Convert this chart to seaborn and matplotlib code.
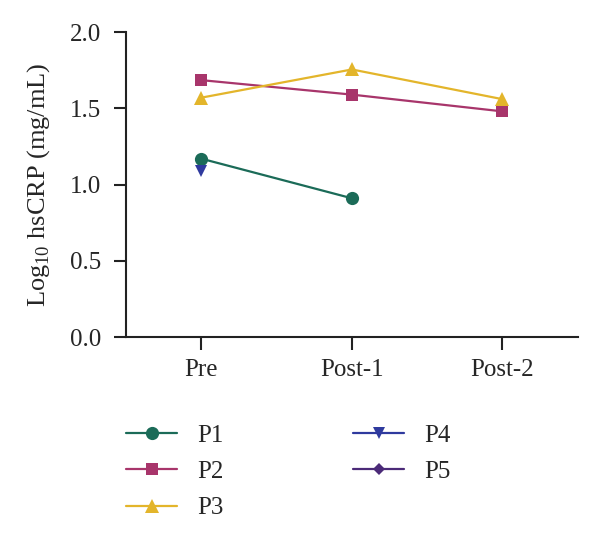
import numpy as np
import pandas as pd
import seaborn as sns
import matplotlib.pyplot as plt
from matplotlib.lines import Line2D

# 시점 / 환자별 Log10 hsCRP
stages = ['Pre', 'Post-1', 'Post-2']
patients = ['P1', 'P2', 'P3', 'P4', 'P5']
p1 = [1.17, 0.91, np.nan]
p2 = [1.685, 1.59, 1.48]
p3 = [1.57, 1.755, 1.56]
p4 = [1.09, np.nan, np.nan]
p5 = [np.nan, np.nan, np.nan]

colors = ['#1b6b58', '#a8356b', '#e3b52b', '#2f3a9e', '#4b2a78']
markers = ['o', 's', '^', 'v', 'D']
msizes = [9.5, 9, 9.5, 8.5, 6.5]

rows = []
for name, vals in zip(patients, [p1, p2, p3, p4, p5]):
    for i, v in enumerate(vals):
        rows.append({'patient': name, 'stage': i, 'value': v})
data = pd.DataFrame(rows).dropna()

sns.set_style('ticks')
plt.rcParams['font.family'] = ['Liberation Serif', 'DejaVu Serif']
plt.rcParams['mathtext.fontset'] = 'custom'
plt.rcParams['mathtext.rm'] = 'Liberation Serif'

fig = plt.figure(figsize=(6, 5.35), dpi=100)
ax = fig.add_axes([0.21, 0.370, 0.753, 0.570])

for name, c, m, ms in zip(patients, colors, markers, msizes):
    sub = data[data['patient'] == name]
    if len(sub) == 0:
        continue
    sns.lineplot(data=sub, x='stage', y='value', color=c, marker=m,
                 markersize=ms, markeredgewidth=0, linewidth=1.6, ax=ax, legend=False)

ax.set_xlim(-0.5, 2.5)
ax.set_ylim(0, 2.0)
ax.set_xticks(range(len(stages)))
ax.set_xticklabels(stages)
ax.set_yticks([0, 0.5, 1.0, 1.5, 2.0])
ax.set_yticklabels(['0.0', '0.5', '1.0', '1.5', '2.0'])
ax.set_xlabel('')
ax.set_ylabel('Log$_\\mathrm{10}$ hsCRP (mg/mL)', fontsize=19, labelpad=13)
ax.tick_params(labelsize=18, length=9, width=1.5, direction='out', color='#222222')
ax.tick_params(axis='y', pad=9)
ax.tick_params(axis='x', pad=7)
for s in ['left', 'bottom']:
    ax.spines[s].set_linewidth(1.5)
    ax.spines[s].set_color('#222222')
sns.despine(ax=ax)

handles = [Line2D([0], [0], color=c, marker=m, markersize=ms, markeredgewidth=0, linewidth=1.6)
           for c, m, ms in zip(colors, markers, msizes)]
fig.legend(handles, patients, loc='upper left', bbox_to_anchor=(0.21, 0.207), ncol=2,
           frameon=False, fontsize=18, handlelength=2.04, labelspacing=0.55,
           columnspacing=5.2, handletextpad=0.8, borderpad=0, borderaxespad=0)

plt.savefig('out.png', dpi=100)
